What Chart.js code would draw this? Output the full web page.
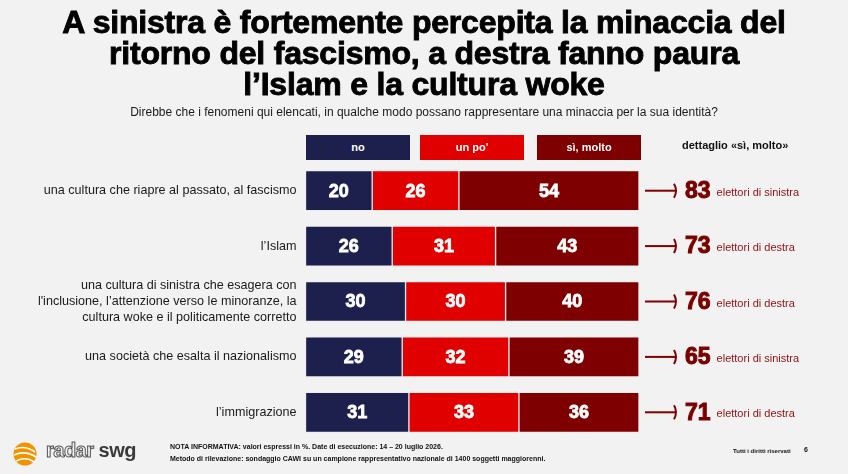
<!DOCTYPE html>
<html>
<head>
<meta charset="utf-8">
<script src="https://cdn.jsdelivr.net/npm/chart.js@4"></script>
<style>
  body { margin: 0; background: #f2f2f2; }
  #pagina { position: relative; width: 848px; height: 474px; overflow: hidden; background: #f2f2f2; font-family: "Liberation Sans", Arial, sans-serif; }
  #grafico { position: absolute; left: 0; top: 0; }
  .titolo { position: absolute; left: 0; top: 7px; width: 848px; text-align: center; font-size: 32px; line-height: 31px; font-weight: bold; color: #000; -webkit-text-stroke: 0.9px #000; letter-spacing: -0.2px; }
  .sottotitolo { position: absolute; left: 0; top: 105px; width: 848px; text-align: center; font-size: 12px; color: #1a1a1a; }
  .leg { position: absolute; top: 135px; height: 25px; width: 104px; color: #fff; font-size: 11px; font-weight: bold; text-align: center; line-height: 25px; }
  .dett { position: absolute; left: 682px; top: 139px; font-size: 11px; font-weight: bold; color: #111; }
  .nota { position: absolute; left: 170px; top: 441px; font-size: 7px; line-height: 12px; color: #111; font-weight: 600; }
  .diritti { position: absolute; left: 733px; top: 448px; font-size: 6px; color: #111; font-weight: bold; }
  .pag { position: absolute; left: 804px; top: 446px; font-size: 7px; color: #111; font-weight: bold; }
  .logo { position: absolute; left: 12px; top: 440px; }
  .logo-testo { position: absolute; left: 46px; top: 439px; font-size: 20px; font-weight: bold; letter-spacing: -0.5px; }
  .radar { color: transparent; -webkit-text-stroke: 1px #555; }
  .swg { color: #3a3a3a; }
</style>
</head>
<body>
<div id="pagina">
  <canvas id="grafico" width="848" height="474"></canvas>
  <div class="titolo">A sinistra è fortemente percepita la minaccia del<br>ritorno del fascismo, a destra fanno paura<br>l’Islam e la cultura woke</div>
  <div class="sottotitolo">Direbbe che i fenomeni qui elencati, in qualche modo possano rappresentare una minaccia per la sua identità?</div>
  <div class="leg" style="left:306px; background:#1d1f4d;">no</div>
  <div class="leg" style="left:420px; background:#e10000;">un po'</div>
  <div class="leg" style="left:537px; background:#7f0000;">sì, molto</div>
  <div class="dett">dettaglio «sì, molto»</div>
  <svg class="logo" width="26" height="28" viewBox="0 0 26 28">
    <circle cx="13" cy="14" r="11.5" fill="#f39200"/>
    <path d="M3 9 Q13 5 23 12" stroke="#fff" stroke-width="1.6" fill="none"/>
    <path d="M2 15 Q13 10 24 17" stroke="#fff" stroke-width="1.6" fill="none"/>
    <path d="M4 21 Q14 16 22 22" stroke="#fff" stroke-width="1.6" fill="none"/>
  </svg>
  <div class="logo-testo"><span class="radar">radar</span> <span class="swg">swg</span></div>
  <div class="nota"><b>NOTA INFORMATIVA:</b> valori espressi in %. Date di esecuzione: 14 – 20 luglio 2026.<br>Metodo di rilevazione: sondaggio CAWI su un campione rappresentativo nazionale di 1400 soggetti maggiorenni.</div>
  <div class="diritti">Tutti i diritti riservati</div>
  <div class="pag">6</div>
</div>
<script>
// dati
const categorie = [
  'una cultura che riapre al passato, al fascismo',
  'l’Islam',
  ['una cultura di sinistra che esagera con', 'l\'inclusione, l’attenzione verso le minoranze, la', 'cultura woke e il politicamente corretto'],
  'una società che esalta il nazionalismo',
  'l’immigrazione'
];
const valoriNo = [20, 26, 30, 29, 31];
const valoriUnPo = [26, 31, 30, 32, 33];
const valoriMolto = [54, 43, 40, 39, 36];
const dettaglioMolto = [83, 73, 76, 65, 71];
const elettori = ['elettori di sinistra', 'elettori di destra', 'elettori di destra', 'elettori di sinistra', 'elettori di destra'];

const ctx = document.getElementById('grafico');

// numeri bianchi dentro le barre
const etichetteBarre = {
  id: 'etichetteBarre',
  afterDatasetsDraw(chart) {
    const c = chart.ctx;
    c.save();
    c.fillStyle = '#fff';
    c.font = 'bold 18px "Liberation Sans", Arial, sans-serif';
    c.textAlign = 'center';
    c.textBaseline = 'middle';
    c.strokeStyle = '#fff';
    c.lineWidth = 0.8;
    chart.data.datasets.forEach(function (ds, i) {
      const meta = chart.getDatasetMeta(i);
      meta.data.forEach(function (el, j) {
        const x = (el.x + el.base) / 2;
        c.fillText(ds.data[j], x, el.y + 1);
        c.strokeText(ds.data[j], x, el.y + 1);
      });
    });
    c.restore();
  }
};

// freccia e dettaglio "sì, molto" a destra
const dettaglio = {
  id: 'dettaglio',
  afterDatasetsDraw(chart) {
    const c = chart.ctx;
    const area = chart.chartArea;
    const y = chart.scales.y;
    c.save();
    dettaglioMolto.forEach(function (v, i) {
      const py = y.getPixelForTick(i);
      const x0 = area.right + 6;
      const x1 = area.right + 38;
      c.strokeStyle = '#7f0000';
      c.lineWidth = 2;
      c.beginPath();
      c.moveTo(x0, py);
      c.lineTo(x1 - 2, py);
      c.stroke();
      c.beginPath();
      c.moveTo(x1 - 3, py - 7);
      c.quadraticCurveTo(x1 + 1, py, x1 - 3, py + 7);
      c.stroke();
      c.fillStyle = '#7a0000';
      c.font = 'bold 23px "Liberation Sans", Arial, sans-serif';
      c.textAlign = 'left';
      c.textBaseline = 'middle';
      c.lineWidth = 1;
      c.strokeStyle = '#7a0000';
      c.fillText(v, x1 + 8, py + 1);
      c.strokeText(v, x1 + 8, py + 1);
      const w = c.measureText(String(v)).width;
      c.fillStyle = '#8f1010';
      c.font = '11px "Liberation Sans", Arial, sans-serif';
      c.fillText(elettori[i], x1 + 8 + w + 6, py + 2);
    });
    c.restore();
  }
};

new Chart(ctx, {
  type: 'bar',
  data: {
    labels: categorie,
    datasets: [
      { label: 'no', data: valoriNo, backgroundColor: '#1d1f4d', borderColor: 'rgba(235,235,240,0.85)', borderWidth: 1, borderSkipped: false },
      { label: "un po'", data: valoriUnPo, backgroundColor: '#e10000', borderColor: 'rgba(235,235,240,0.85)', borderWidth: 1, borderSkipped: false },
      { label: 'sì, molto', data: valoriMolto, backgroundColor: '#7f0000', borderColor: 'rgba(235,235,240,0.85)', borderWidth: 1, borderSkipped: false }
    ]
  },
  options: {
    responsive: false,
    animation: false,
    indexAxis: 'y',
    layout: { padding: { top: 163, bottom: 34, right: 209, left: 0 } },
    datasets: { bar: { barThickness: 40 } },
    plugins: { legend: { display: false }, tooltip: { enabled: false } },
    scales: {
      x: { stacked: true, min: 0, max: 100, display: false },
      y: {
        stacked: true,
        grid: { display: false },
        border: { display: false },
        ticks: {
          padding: 1,
          color: '#1a1a1a',
          font: { family: '"Liberation Sans", Arial, sans-serif', size: 12.6, lineHeight: 1.27 }
        },
        afterFit: function (scale) { scale.width = 305.5; }
      }
    }
  },
  plugins: [etichetteBarre, dettaglio]
});
</script>
</body>
</html>
